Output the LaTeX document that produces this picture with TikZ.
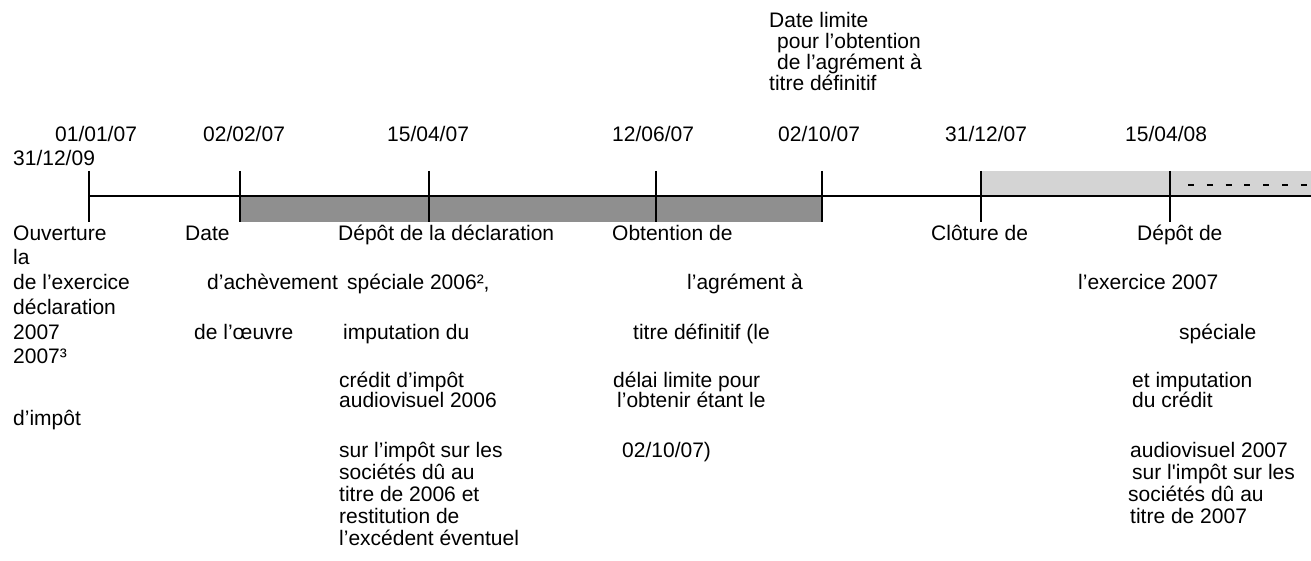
\documentclass[tikz,border=0pt]{standalone}
\usepackage{fontspec}
\setmainfont{Liberation Sans}
\definecolor{darkbar}{RGB}{143,143,143}
\definecolor{lightbar}{RGB}{212,212,212}
\tikzset{
  lbl/.style={anchor=base west, inner sep=0pt, font=\fontsize{21}{23}\selectfont},
  datelbl/.style={anchor=base west, inner sep=0pt, font=\fontsize{21}{23}\selectfont},
  tick/.style={line width=2pt},
  axis/.style={line width=2pt}
}
\begin{document}
\begin{tikzpicture}[x=1pt,y=-1pt]
\useasboundingbox (0,0) rectangle (1311,561);
% bars
\fill[darkbar] (240,196) rectangle (822,222);
\fill[lightbar] (981,171) rectangle (1311,196);
% axis
\coordinate (a0) at (89,196);
\coordinate (a1) at (1311,196);
\draw[axis] (a0) -- (a1);
% ticks
\foreach \n/\x in {k1/89,k2/240,k3/429,k4/656,k5/822,k6/981,k7/1170}{
  \coordinate (\n t) at (\x,171);
  \coordinate (\n b) at (\x,222);
  \draw[tick] (\n t) -- (\n b);
}
% dashes
\coordinate (d0) at (1188,185);
\coordinate (d1) at (1308,185);
\draw[line width=2.2pt, dash pattern=on 6pt off 12.8pt] (d0) -- (d1);
% top note
\node[lbl] (n1) at (769,28) {Date limite};
\node[lbl] (n2) at (777,49) {pour l’obtention};
\node[lbl] (n3) at (777,70) {de l’agrément à};
\node[lbl] (n4) at (769,91) {titre définitif};
% dates
\node[datelbl] (d1a) at (55,142) {01/01/07};
\node[datelbl] (d1b) at (13,166) {31/12/09};
\node[datelbl] (d2) at (203,142) {02/02/07};
\node[datelbl] (d3) at (387,142) {15/04/07};
\node[datelbl] (d4) at (612,142) {12/06/07};
\node[datelbl] (d5) at (778,142) {02/10/07};
\node[datelbl] (d6) at (945,142) {31/12/07};
\node[datelbl] (d7) at (1125,142) {15/04/08};
% left column
\node[lbl] (l1) at (13,241) {Ouverture};
\node[lbl] (l2) at (13,265) {la};
\node[lbl] (l3) at (13,290) {de l’exercice};
\node[lbl] (l4) at (13,314) {déclaration};
\node[lbl] (l5) at (13,339) {2007};
\node[lbl] (l6) at (13,363) {2007³};
\node[lbl] (l7) at (13,425) {d’impôt};
% second column
\node[lbl] (c1) at (185,241) {Date};
\node[lbl] (c2) at (207,290) {d’achèvement};
\node[lbl] (c3) at (194,339) {de l’œuvre};
% third column
\node[lbl] (m1) at (338,241) {Dépôt de la déclaration};
\node[lbl] (m2) at (347,290) {spéciale 2006²,};
\node[lbl] (m3) at (343,339) {imputation du};
\node[lbl] (m4) at (339,387) {crédit d’impôt};
\node[lbl] (m5) at (339,407) {audiovisuel 2006};
\node[lbl] (m6) at (339,457) {sur l’impôt sur les};
\node[lbl] (m7) at (339,479) {sociétés dû au};
\node[lbl] (m8) at (339,501) {titre de 2006 et};
\node[lbl] (m9) at (339,523) {restitution de};
\node[lbl] (m10) at (339,545) {l’excédent éventuel};
% fourth column
\node[lbl] (o1) at (612,241) {Obtention de};
\node[lbl] (o2) at (687,290) {l’agrément à};
\node[lbl] (o3) at (633,339) {titre définitif (le};
\node[lbl] (o4) at (613,387) {délai limite pour};
\node[lbl] (o5) at (617,407) {l’obtenir étant le};
\node[lbl] (o6) at (622,457) {02/10/07)};
% fifth
\node[lbl] (q1) at (931,241) {Clôture de};
% right column
\node[lbl] (r1) at (1137,241) {Dépôt de};
\node[lbl] (r2) at (1078,290) {l’exercice 2007};
\node[lbl] (r3) at (1179,339) {spéciale};
\node[lbl] (r4) at (1132,387) {et imputation};
\node[lbl] (r5) at (1132,407) {du crédit};
\node[lbl] (r6) at (1130,457) {audiovisuel 2007};
\node[lbl] (r7) at (1132,479) {sur l\textquotesingle impôt sur les};
\node[lbl] (r8) at (1128,501) {sociétés dû au};
\node[lbl] (r9) at (1130,523) {titre de 2007};
\end{tikzpicture}
\end{document}
